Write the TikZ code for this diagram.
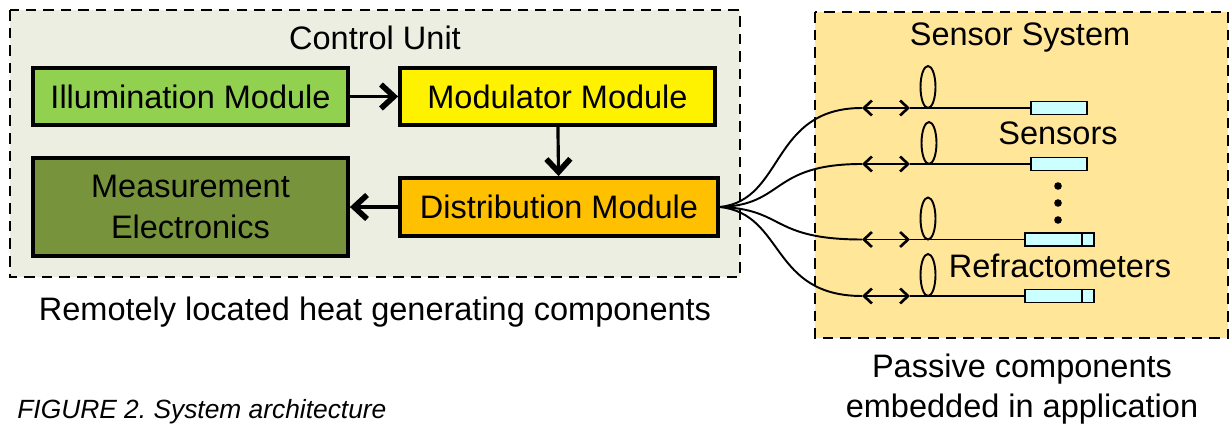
\documentclass[tikz,border=0pt]{standalone}
\usepackage{fontspec}
\setmainfont{Liberation Sans}
\usetikzlibrary{arrows.meta}

\definecolor{ctrlbg}{RGB}{235,238,224}
\definecolor{sensbg}{RGB}{255,230,153}
\definecolor{illumgreen}{RGB}{146,208,80}
\definecolor{measgreen}{RGB}{119,147,60}
\definecolor{distorange}{RGB}{255,192,0}
\definecolor{probecyan}{RGB}{204,255,255}

\tikzset{
    module/.style={draw, line width=2.2pt, minimum width=6.3cm, minimum height=1.14cm,
        font=\fontsize{18.5}{23}\selectfont, align=center},
    flow/.style={line width=1.8pt, -{Straight Barb[length=2.6mm,width=4.8mm,line width'=3.2pt]}},
    unitbox/.style={line width=1.2pt, dash pattern=on 6pt off 4pt},
    fiber/.style={line width=1.1pt},
    coupler/.style={line width=1.1pt, {Straight Barb[length=1.6mm,width=3mm,line width'=1.5pt]}-{Straight Barb[length=1.6mm,width=3mm,line width'=1.5pt]}},
    probe/.style={draw, line width=1pt, fill=probecyan, minimum height=0.26cm, inner sep=0pt, anchor=west},
    bigtext/.style={font=\fontsize{18.5}{23}\selectfont, align=center}
}

\begin{document}
\begin{tikzpicture}[x=0.02cm, y=-0.02cm]
    \useasboundingbox (0,0) rectangle (1230,425);

    % Draw the two dashed enclosures
    \fill[ctrlbg] (10,10) rectangle (740,277);
    \draw[unitbox] (10,10) rectangle (740,277);
    \fill[sensbg] (815,12) rectangle (1228,338);
    \draw[unitbox] (815,12) rectangle (1228,338);

    \node[bigtext] (ctrltitle) at (375,38) {Control Unit};
    \node[bigtext] (senstitle) at (1020,38) {Sensor System};

    % Modules of the control unit
    \node[module, fill=illumgreen] (illum) at (190.5,96.5) {Illumination Module};
    \node[module, fill=yellow] (modul) at (557.5,96.5) {Modulator Module};
    \node[module, fill=measgreen, minimum height=1.96cm] (meas) at (190.5,207) {Measurement\\Electronics};
    \node[module, fill=distorange, minimum width=6.36cm, minimum height=1.16cm] (dist) at (559,207) {Distribution Module};

    \draw[flow] (illum) -- (modul);
    \draw[flow] (modul) -- (dist);
    \draw[flow] (dist) -- (meas);

    % Sensors and refractometers
    \node[probe, minimum width=1.12cm] (sens1) at (1030,108) {};
    \node[probe, minimum width=1.12cm] (sens2) at (1030,164) {};
    \node[probe, minimum width=1.38cm] (refr1) at (1024,239.5) {};
    \node[probe, minimum width=1.38cm] (refr2) at (1024,296) {};
    \draw[line width=1pt] ([xshift=-0.26cm]refr1.north east) -- ([xshift=-0.26cm]refr1.south east);
    \draw[line width=1pt] ([xshift=-0.26cm]refr2.north east) -- ([xshift=-0.26cm]refr2.south east);

    \node[bigtext] (senslabel) at (1058,133) {Sensors};
    \node[bigtext] (refrlabel) at (1060,266) {Refractometers};
    \fill (1058,186) circle (3.8);
    \fill (1058,203) circle (3.8);
    \fill (1058,220) circle (3.8);

    % Fibres fanning out of the distribution module
    \coordinate (a1) at (862,108);
    \coordinate (b1) at (910,108);
    \coordinate (a2) at (862,164);
    \coordinate (b2) at (910,164);
    \coordinate (a3) at (862,239.5);
    \coordinate (b3) at (910,239.5);
    \coordinate (a4) at (862,296);
    \coordinate (b4) at (910,296);

    \draw[fiber] (dist.east) .. controls (785,200) and (770,108) .. (a1);
    \draw[fiber] (dist.east) .. controls (785,205) and (770,164) .. (a2);
    \draw[fiber] (dist.east) .. controls (785,209) and (770,239.5) .. (a3);
    \draw[fiber] (dist.east) .. controls (785,214) and (770,296) .. (a4);

    \draw[coupler] (a1) -- (b1);
    \draw[coupler] (a2) -- (b2);
    \draw[coupler] (a3) -- (b3);
    \draw[coupler] (a4) -- (b4);

    \draw[fiber] (b1) -- (sens1.west);
    \draw[fiber] (b2) -- (sens2.west);
    \draw[fiber] (b3) -- (refr1.west);
    \draw[fiber] (b4) -- (refr2.west);

    % Fibre loops
    \draw[fiber] (928,87) ellipse (7.5 and 21);
    \draw[fiber] (929,143) ellipse (7.5 and 21);
    \draw[fiber] (928,218.5) ellipse (7.5 and 21);
    \draw[fiber] (928,275) ellipse (7.5 and 21);

    % Captions
    \node[bigtext] (remote) at (375,312) {Remotely located heat generating components};
    \node[bigtext] (passive) at (1022,389) {Passive components\\embedded in application};
    \node[anchor=west, font=\fontsize{15}{18}\selectfont\itshape, inner sep=0pt] (caption) at (17,412) {FIGURE 2.\ System architecture};

\end{tikzpicture}
\end{document}
